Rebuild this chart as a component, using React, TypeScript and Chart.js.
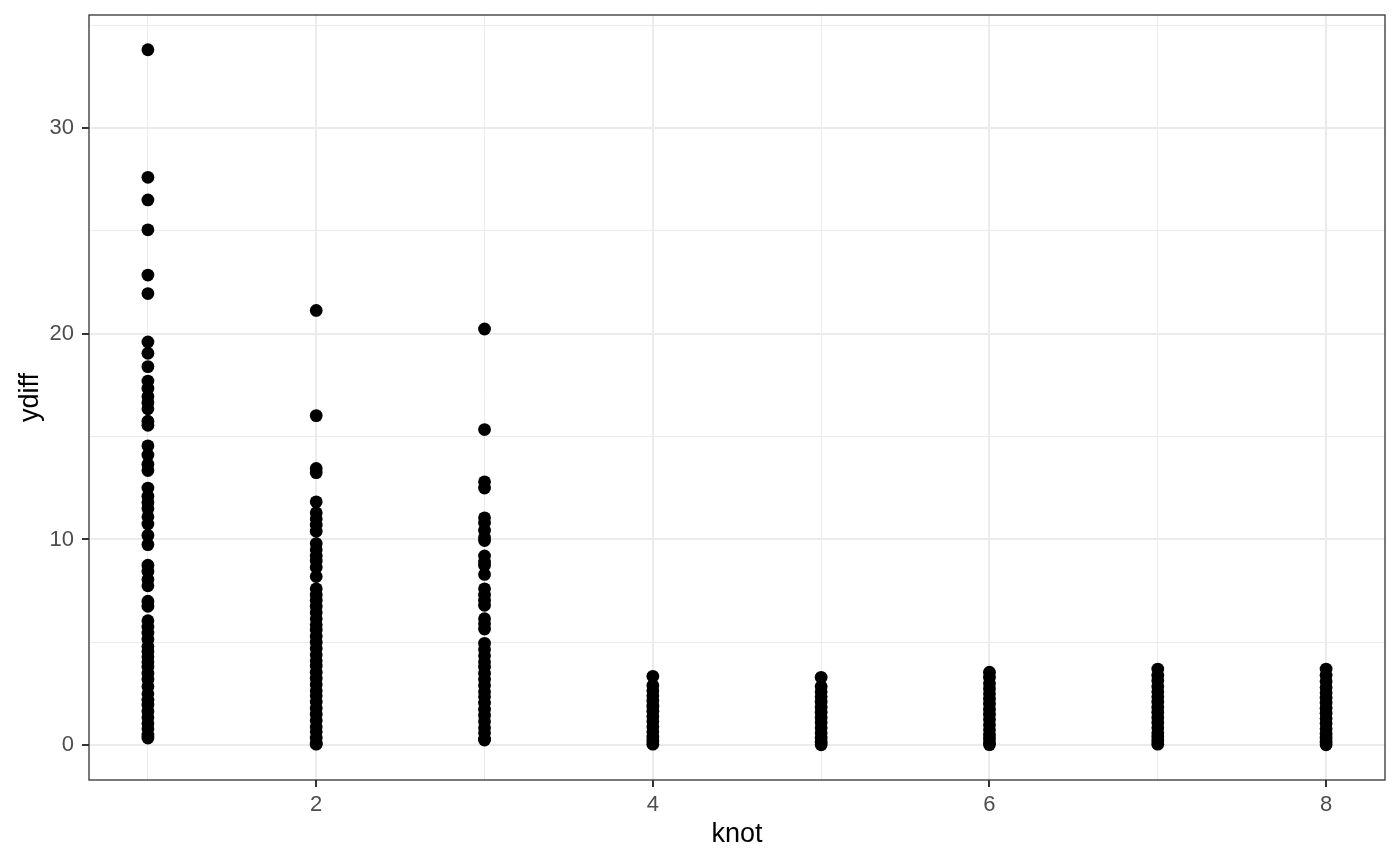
import React, { useEffect, useRef } from "react";
import { Chart, registerables } from "chart.js";

Chart.register(...registerables);

// ---- data ----
const knots = [1, 2, 3, 4, 5, 6, 7, 8];

const ydiffKnot1 = [
  33.8, 27.6, 26.5, 25.05, 22.85, 21.95, 19.6, 19.05, 18.4, 17.7, 17.35, 16.95, 16.65, 16.35,
  15.75, 15.55, 14.55, 14.1, 13.65, 13.35, 12.5, 12.1, 11.8, 11.5, 11.1, 10.75, 10.2, 9.75,
  8.75, 8.45, 8.05, 7.75, 7.0, 6.75, 6.05, 5.75, 5.45, 5.15, 4.8, 4.55, 4.3, 4.05, 3.8, 3.5,
  3.2, 2.85, 2.5, 2.2, 1.95, 1.65, 1.35, 1.05, 0.8, 0.5, 0.35,
];
const ydiffKnot2 = [
  21.13, 16.02, 13.45, 13.25, 11.83, 11.3, 11.0, 10.7, 10.4, 9.8, 9.5, 9.2, 8.95, 8.65, 8.2,
  7.6, 7.3, 7.05, 6.75, 6.45, 6.15, 5.85, 5.6, 5.3, 5.0, 4.7, 4.4, 4.1, 3.85, 3.55, 3.25,
  2.95, 2.65, 2.4, 2.1, 1.8, 1.5, 1.2, 0.9, 0.65, 0.35, 0.1, 0.05,
];
const ydiffKnot3 = [
  20.23, 15.34, 12.8, 12.5, 11.05, 10.8, 10.45, 10.1, 9.95, 9.2, 8.9, 8.75, 8.3, 7.6, 7.3,
  7.05, 6.8, 6.15, 5.9, 5.65, 4.95, 4.65, 4.35, 4.05, 3.8, 3.5, 3.2, 2.9, 2.6, 2.35, 2.05,
  1.75, 1.45, 1.15, 0.85, 0.6, 0.3, 0.25,
];
const ydiffKnot4 = [3.35, 2.9, 2.65, 2.4, 2.15, 1.9, 1.65, 1.4, 1.15, 0.9, 0.65, 0.4, 0.2, 0.05];
const ydiffKnot5 = [3.3, 2.85, 2.6, 2.35, 2.1, 1.85, 1.6, 1.35, 1.1, 0.85, 0.6, 0.35, 0.15, 0.02];
const ydiffKnot6 = [
  3.55, 3.3, 3.0, 2.75, 2.5, 2.25, 2.0, 1.75, 1.5, 1.25, 1.0, 0.75, 0.5, 0.3, 0.12, 0.03,
];
const ydiffKnot7 = [
  3.7, 3.4, 3.15, 2.85, 2.6, 2.35, 2.1, 1.85, 1.6, 1.35, 1.1, 0.85, 0.6, 0.4, 0.2, 0.05,
];
const ydiffKnot8 = [
  3.7, 3.4, 3.1, 2.8, 2.55, 2.3, 2.05, 1.8, 1.55, 1.3, 1.05, 0.8, 0.55, 0.35, 0.15, 0.02,
];

const ydiffByKnot = [
  ydiffKnot1, ydiffKnot2, ydiffKnot3, ydiffKnot4,
  ydiffKnot5, ydiffKnot6, ydiffKnot7, ydiffKnot8,
];

const xTickValues = [1, 2, 3, 4, 5, 6, 7, 8];
const xLabeledTicks = [2, 4, 6, 8];
const yTickValues = [0, 5, 10, 15, 20, 25, 30, 35];
const yLabeledTicks = [0, 10, 20, 30];

const xTitle = "knot";
const yTitle = "ydiff";

const FONT = "'Liberation Sans', Arial, Helvetica, sans-serif";

const panelBorder = {
  id: "panelBorder",
  afterDraw(chart: any) {
    const { ctx, chartArea: a } = chart;
    ctx.save();
    ctx.strokeStyle = "#333333";
    ctx.lineWidth = 1.3;
    ctx.strokeRect(a.left, a.top, a.right - a.left, a.bottom - a.top);
    ctx.restore();
  },
};

export default function App() {
  const canvasRef = useRef<HTMLCanvasElement | null>(null);

  useEffect(() => {
    if (!canvasRef.current) return;
    const points: { x: number; y: number }[] = [];
    knots.forEach((k, i) => {
      ydiffByKnot[i].forEach((v) => points.push({ x: k, y: v }));
    });

    const isMajorX = (v: number) => xLabeledTicks.includes(v);
    const isMajorY = (v: number) => yLabeledTicks.includes(v);

    const chart = new Chart(canvasRef.current, {
      type: "scatter",
      data: {
        datasets: [
          {
            data: points,
            backgroundColor: "#000000",
            borderWidth: 0,
            pointRadius: 6.4,
            pointHoverRadius: 6.4,
          },
        ],
      },
      plugins: [panelBorder],
      options: {
        animation: false,
        responsive: false,
        devicePixelRatio: 1,
        layout: { autoPadding: false, padding: { top: 15, right: 15, left: 0, bottom: 0 } },
        plugins: {
          legend: { display: false },
          tooltip: { enabled: false },
        },
        scales: {
          x: {
            type: "linear",
            min: 0.65,
            max: 8.35,
            afterBuildTicks: (s: any) => {
              s.ticks = xTickValues.map((v) => ({ value: v }));
            },
            afterFit: (s: any) => {
              s.height = 85;
              s.paddingLeft = 0;
              s.paddingRight = 0;
            },
            border: { display: false },
            grid: {
              color: "#EBEBEB",
              lineWidth: (c: any) => (c.tick && isMajorX(c.tick.value) ? 2 : 1),
              tickColor: (c: any) =>
                c.tick && isMajorX(c.tick.value) ? "#333333" : "rgba(0,0,0,0)",
              tickLength: 7,
              tickWidth: 2,
            },
            ticks: {
              autoSkip: false,
              maxRotation: 0,
              padding: 5,
              color: "#4D4D4D",
              font: { family: FONT, size: 22 },
              callback: (v: any) => (isMajorX(Number(v)) ? String(v) : ""),
            },
            title: {
              display: true,
              text: xTitle,
              color: "#000000",
              font: { family: FONT, size: 27 },
              padding: { top: 0, bottom: 14 },
            },
          },
          y: {
            type: "linear",
            min: -1.69,
            max: 35.49,
            afterBuildTicks: (s: any) => {
              s.ticks = yTickValues.map((v) => ({ value: v }));
            },
            afterFit: (s: any) => {
              s.width = 89;
              s.paddingTop = 0;
              s.paddingBottom = 0;
            },
            border: { display: false },
            grid: {
              color: "#EBEBEB",
              lineWidth: (c: any) => (c.tick && isMajorY(c.tick.value) ? 2 : 1),
              tickColor: (c: any) =>
                c.tick && isMajorY(c.tick.value) ? "#333333" : "rgba(0,0,0,0)",
              tickLength: 7,
              tickWidth: 2,
            },
            ticks: {
              autoSkip: false,
              padding: 8,
              color: "#4D4D4D",
              font: { family: FONT, size: 22 },
              callback: (v: any) => (isMajorY(Number(v)) ? String(v) : ""),
            },
            title: {
              display: true,
              text: yTitle,
              color: "#000000",
              font: { family: FONT, size: 27 },
              padding: { top: 14, bottom: 0 },
            },
          },
        },
      },
    } as any);

    return () => chart.destroy();
  }, []);

  return (
    <div style={{ position: "fixed", left: 0, top: 0, width: 1400, height: 865, background: "#ffffff" }}>
      <canvas ref={canvasRef} width={1400} height={865} style={{ display: "block" }} />
    </div>
  );
}
